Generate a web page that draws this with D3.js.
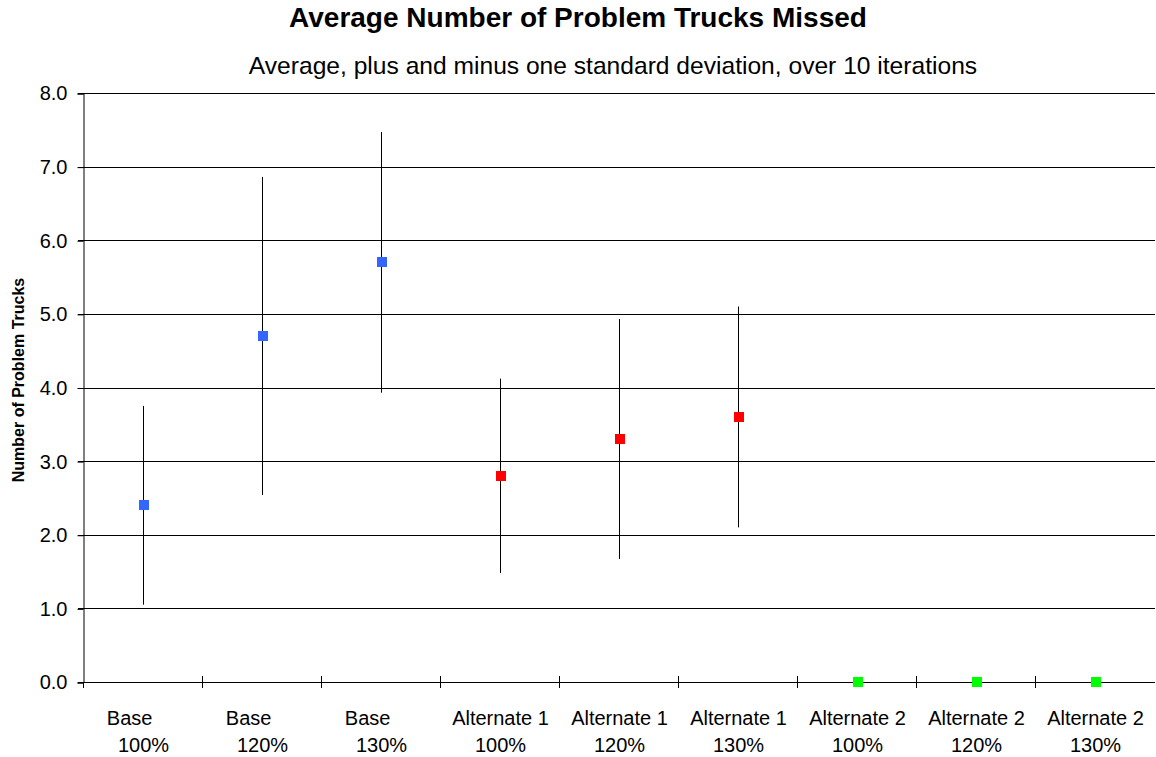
<!DOCTYPE html>
<html>
<head>
<meta charset="utf-8">
<script src="https://cdn.jsdelivr.net/npm/d3@7"></script>
<style>
  body { margin: 0; background: #fff; }
  text { font-family: "Liberation Sans", Arial, sans-serif; fill: #000; }
</style>
</head>
<body>
<div id="chart"></div>
<script>
// chart data
var categories = ["Base 100%", "Base 120%", "Base 130%",
                  "Alternate 1 100%", "Alternate 1 120%", "Alternate 1 130%",
                  "Alternate 2 100%", "Alternate 2 120%", "Alternate 2 130%"];
var labelLines = [["Base     ", "100%"], ["Base     ", "120%"], ["Base     ", "130%"],
                  ["Alternate 1", "100%"], ["Alternate 1", "120%"], ["Alternate 1", "130%"],
                  ["Alternate 2", "100%"], ["Alternate 2", "120%"], ["Alternate 2", "130%"]];
var groups = ["Base", "Base", "Base", "Alt1", "Alt1", "Alt1", "Alt2", "Alt2", "Alt2"];
var means = [2.4, 4.7, 5.7, 2.8, 3.3, 3.6, 0, 0, 0];
var stdevs = [1.35, 2.16, 1.77, 1.32, 1.63, 1.5, 0, 0, 0];
var yTicks = [0, 1, 2, 3, 4, 5, 6, 7, 8];

var layout = {
    "width": 1156,
    "height": 757,
    "margin": {"top": 93, "right": 1, "bottom": 75, "left": 84}
};
var groupColor = {"Base": "#3366ff", "Alt1": "#ff0000", "Alt2": "#00ff00"};

var svg = d3.select("#chart").append("svg")
    .attr("width", layout.width)
    .attr("height", layout.height);

var x = d3.scaleBand()
    .domain(categories)
    .range([layout.margin.left, layout.width - layout.margin.right]);

var y = d3.scaleLinear()
    .domain([0, 8])
    .range([layout.height - layout.margin.bottom, layout.margin.top]);

// gridlines
svg.append("g")
    .selectAll("line")
    .data(yTicks)
    .enter()
    .append("line")
    .attr("x1", layout.margin.left - 6)
    .attr("x2", layout.width - layout.margin.right)
    .attr("y1", d => Math.round(y(d)) + 0.5)
    .attr("y2", d => Math.round(y(d)) + 0.5)
    .attr("stroke", "#000")
    .attr("stroke-width", 1);

// y axis
var yAxis = svg.append("g")
    .attr("transform", "translate(" + (layout.margin.left - 0.5) + ",0.5)")
    .call(d3.axisLeft(y).tickValues(yTicks).tickFormat(d3.format(".1f")).tickSize(6).tickPadding(10));
yAxis.select(".domain").attr("stroke", "#000");
yAxis.selectAll("text")
    .attr("font-size", "20px")
    .style("font-family", "'Liberation Sans', Arial, sans-serif");

// x axis ticks (crossing)
var bounds = categories.map(c => x(c));
svg.append("g")
    .selectAll("line")
    .data(bounds)
    .enter()
    .append("line")
    .attr("x1", d => Math.round(d) - 0.5)
    .attr("x2", d => Math.round(d) - 0.5)
    .attr("y1", (d, i) => i === 0 ? y(0) : y(0) - 6)
    .attr("y2", y(0) + 6)
    .attr("stroke", "#000");

// x labels, two lines each
var xl = svg.append("g")
    .selectAll("text")
    .data(categories)
    .enter()
    .append("text")
    .attr("text-anchor", "middle")
    .attr("font-size", "20px")
    .style("white-space", "pre");
xl.each(function(c, i) {
    var t = d3.select(this);
    labelLines[i].forEach(function(line, j) {
        t.append("tspan")
            .attr("x", x(c) + x.bandwidth() / 2)
            .attr("y", 725 + j * 27)
            .text(line);
    });
});

// error bars (mean +/- one sd)
svg.append("g")
    .selectAll("line")
    .data(categories)
    .enter()
    .append("line")
    .filter((d, i) => stdevs[i] > 0)
    .attr("x1", d => Math.round(x(d) + x.bandwidth() / 2) - 0.5)
    .attr("x2", d => Math.round(x(d) + x.bandwidth() / 2) - 0.5)
    .attr("y1", d => y(means[categories.indexOf(d)] + stdevs[categories.indexOf(d)]))
    .attr("y2", d => y(means[categories.indexOf(d)] - stdevs[categories.indexOf(d)]))
    .attr("stroke", "#000")
    .attr("stroke-width", 1);

// markers
svg.append("g")
    .selectAll("rect")
    .data(categories)
    .enter()
    .append("rect")
    .attr("x", d => Math.round(x(d) + x.bandwidth() / 2) - 5)
    .attr("y", (d, i) => Math.round(y(means[i])) - 5)
    .attr("width", 10)
    .attr("height", 10)
    .attr("fill", (d, i) => groupColor[groups[i]]);

// titles
svg.append("text")
    .attr("x", 578)
    .attr("y", 27)
    .attr("text-anchor", "middle")
    .attr("font-size", "28px")
    .attr("font-weight", "bold")
    .text("Average Number of Problem Trucks Missed");

svg.append("text")
    .attr("x", 613)
    .attr("y", 74)
    .attr("text-anchor", "middle")
    .attr("font-size", "24.6px")
    .text("Average, plus and minus one standard deviation, over 10 iterations");

svg.append("text")
    .attr("transform", "translate(24,380) rotate(-90)")
    .attr("text-anchor", "middle")
    .attr("font-size", "16px")
    .attr("font-weight", "bold")
    .text("Number of Problem Trucks");
</script>
</body>
</html>
